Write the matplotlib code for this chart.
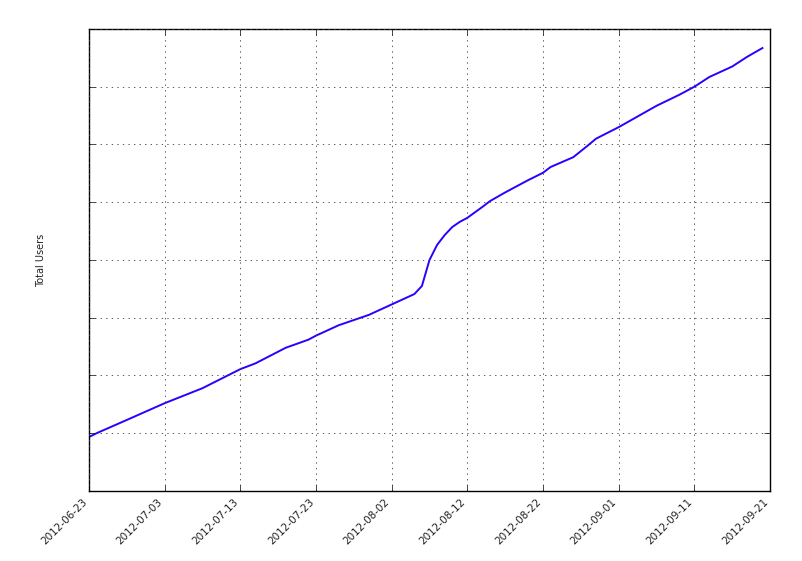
import datetime
import numpy as np
import matplotlib
matplotlib.use('Agg')
from matplotlib import pyplot as plt
import matplotlib.dates as mdates
from matplotlib.ticker import NullFormatter, MultipleLocator

# -----------------------------------------------
# DATA (y in thousands of users)
start = datetime.date(2012, 6, 23)
day_offsets = [0, 1, 5, 10, 15, 20, 22, 26, 29, 30, 33, 37, 40, 43, 44, 45,
               46, 47, 48, 49, 50, 52, 53, 55, 58, 60, 61, 64, 66, 67, 70,
               75, 78, 80, 82, 85, 87, 89]
total_users = [0.935, 1.00, 1.23, 1.52, 1.78, 2.11, 2.21, 2.48, 2.62, 2.69,
               2.87, 3.05, 3.23, 3.41, 3.55, 4.00, 4.26, 4.43, 4.57, 4.66,
               4.73, 4.92, 5.02, 5.17, 5.38, 5.51, 5.61, 5.78, 5.99, 6.10,
               6.30, 6.67, 6.86, 7.00, 7.17, 7.35, 7.52, 7.67]
tick_dates = [start + datetime.timedelta(days=10 * k) for k in range(10)]

dates = [start + datetime.timedelta(days=d) for d in day_offsets]

# -----------------------------------------------
# PLOT
plt.style.use('classic')
plt.rcParams['lines.scale_dashes'] = False
fig = plt.figure(figsize=(8.03, 5.61), dpi=100, facecolor='white')
ax = fig.add_axes([0.1108, 0.1248, 0.8481, 0.8235])
ax.plot(dates, total_users, color='#2b00ff', linewidth=1.4)

ax.set_xlim(tick_dates[0], tick_dates[-1])
ax.set_ylim(0, 8)
ax.set_xticks(tick_dates)
ax.xaxis.set_major_formatter(mdates.DateFormatter('%Y-%m-%d'))
ax.yaxis.set_major_locator(MultipleLocator(1))
ax.yaxis.set_major_formatter(NullFormatter())
ax.grid(True, linestyle=(0, (1, 3)), color='#444444', linewidth=0.6)
for lab in ax.get_xticklabels():
  lab.set_rotation(45)
  lab.set_ha('right')
  lab.set_fontsize(7.5)
  lab.set_color('#222222')
ax.set_ylabel('Total Users', fontsize=7, labelpad=27, color='#222222')

fig.savefig('out.png', dpi=100, facecolor='white')
